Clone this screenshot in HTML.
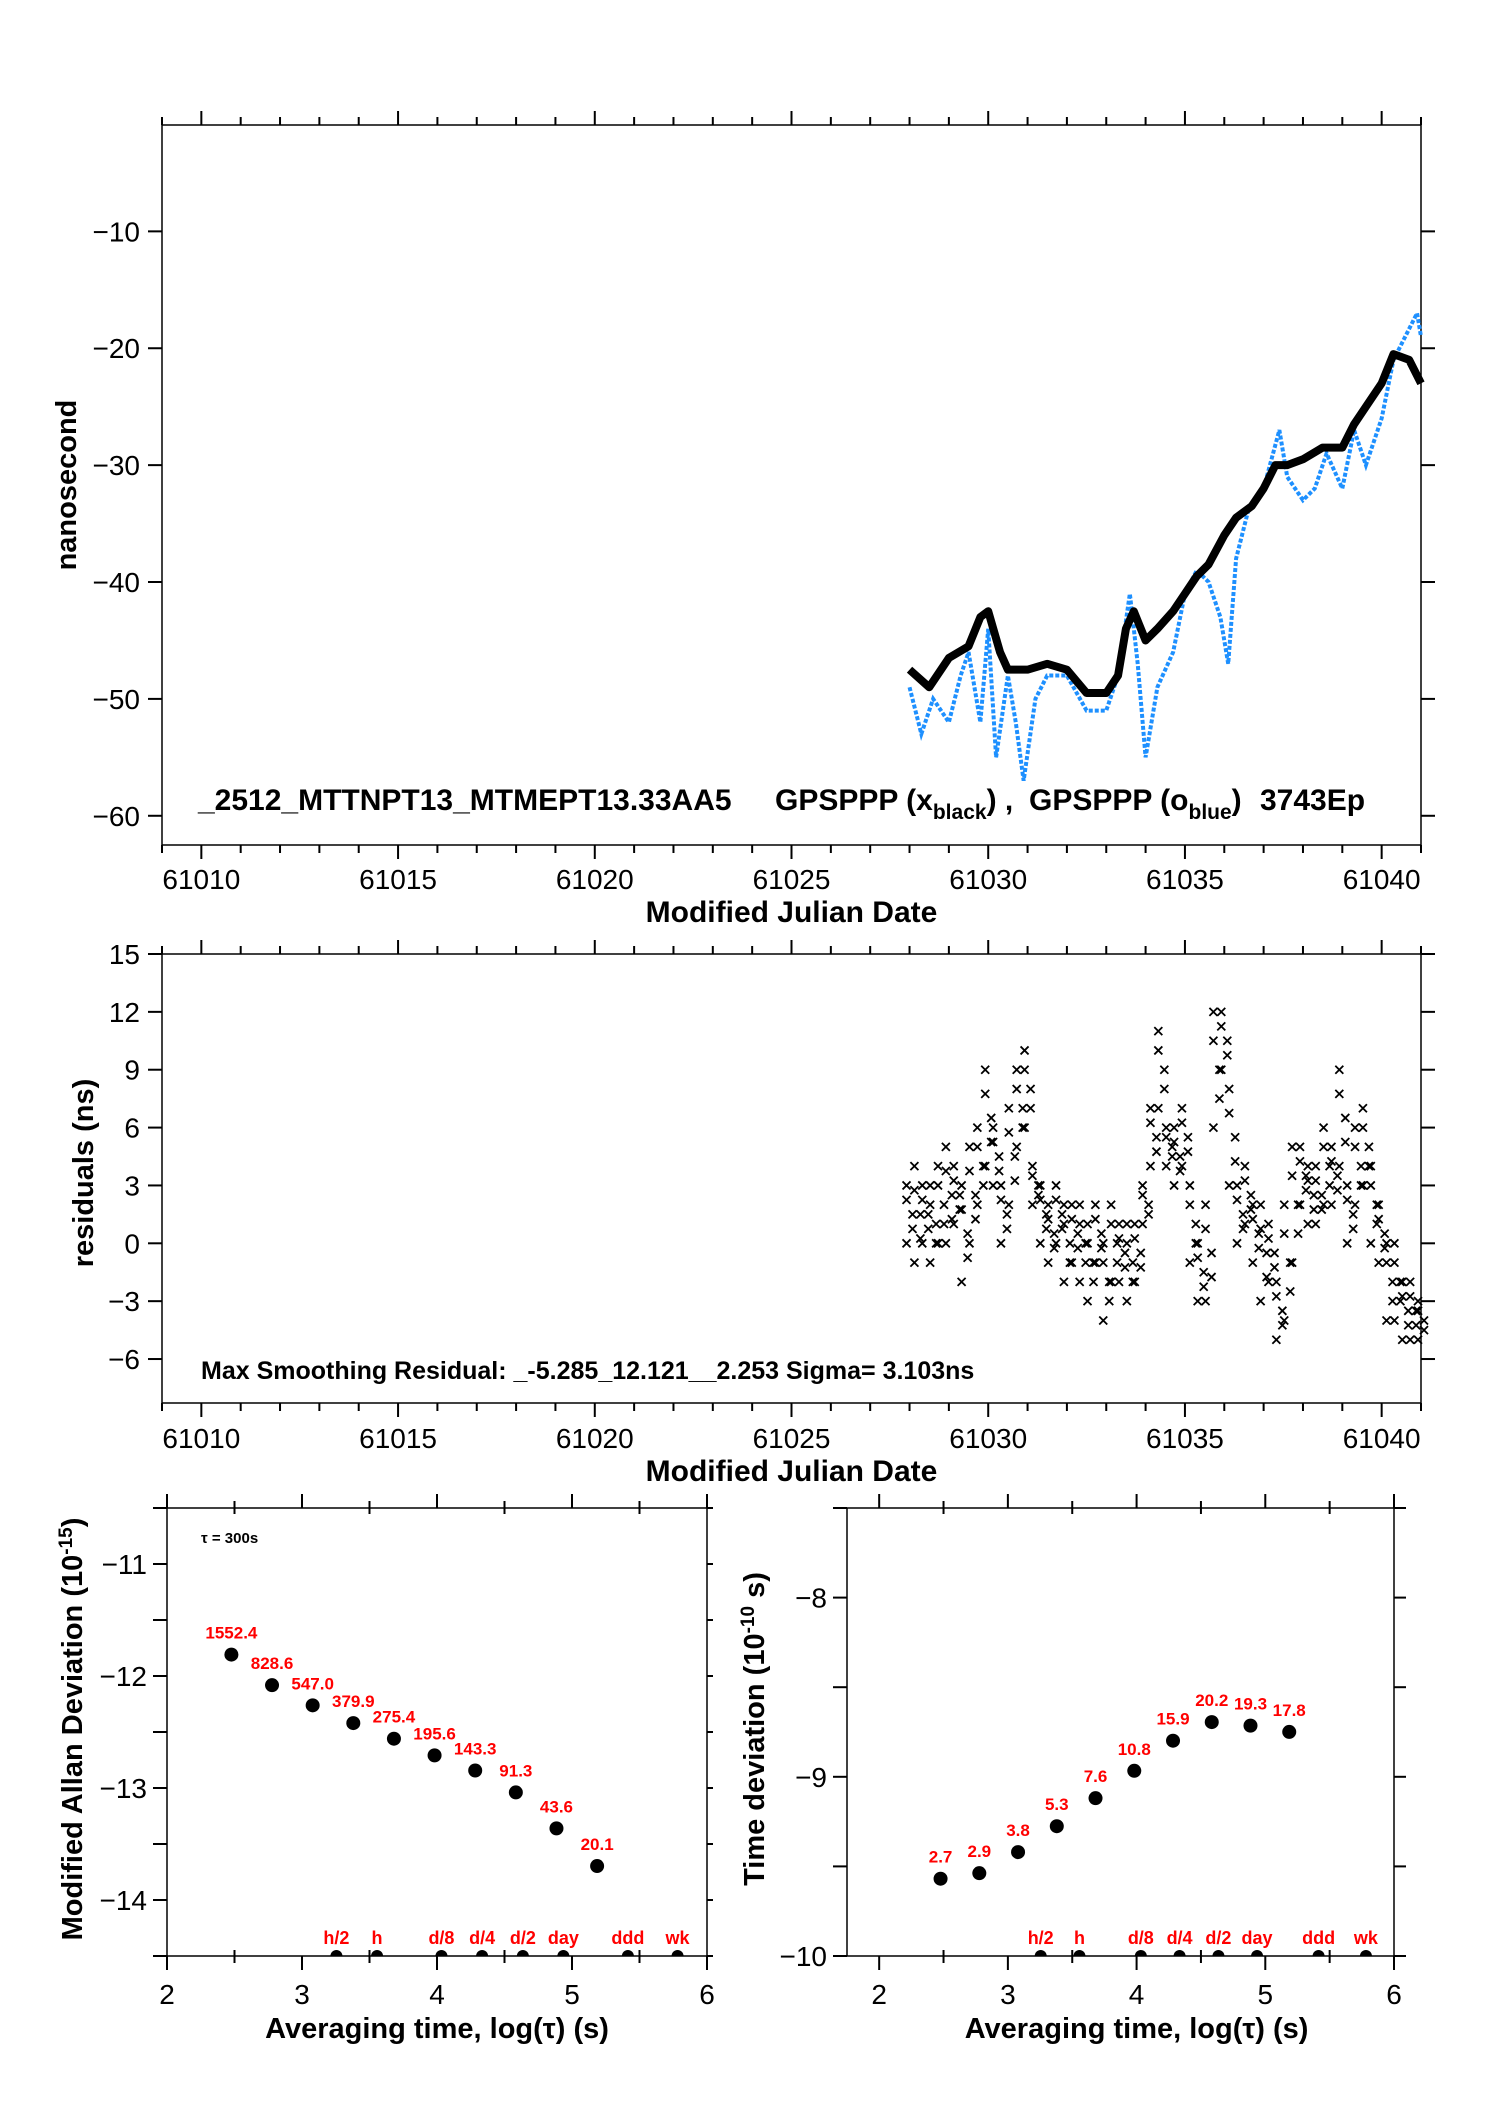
<!DOCTYPE html>
<html><head><meta charset="utf-8">
<style>
html,body{margin:0;padding:0;background:#fff;}
svg{display:block;font-family:"Liberation Sans",Arial,sans-serif;}
</style></head>
<body>
<svg id="fig" width="1488" height="2105" viewBox="0 0 1488 2105" xmlns="http://www.w3.org/2000/svg">
<rect x="0" y="0" width="1488" height="2105" fill="#fff"/>
<g id="top"></g>
<g id="res"></g>
<g id="adev"></g>
<g id="tdev"></g>
</svg>
<script>
// ---- data: top plot ----
const blackMjd = [61028.0,61028.5,61029.0,61029.5,61029.8,61030.0,61030.3,61030.5,61031.0,61031.5,61032.0,61032.5,61033.0,61033.3,61033.5,61033.7,61034.0,61034.3,61034.7,61035.0,61035.3,61035.6,61036.0,61036.3,61036.7,61037.0,61037.3,61037.6,61038.0,61038.5,61039.0,61039.3,61039.6,61040.0,61040.3,61040.7,61041.0];
const blackNs = [-47.5,-49,-46.5,-45.5,-43,-42.5,-46,-47.5,-47.5,-47,-47.5,-49.5,-49.5,-48,-44,-42.5,-45,-44,-42.5,-41,-39.5,-38.5,-36,-34.5,-33.5,-32,-30,-30,-29.5,-28.5,-28.5,-26.5,-25,-23,-20.5,-21,-23];
const blueMjd = [61028.0,61028.3,61028.6,61029.0,61029.3,61029.5,61029.8,61030.0,61030.2,61030.5,61030.7,61030.9,61031.2,61031.5,61032.0,61032.5,61033.0,61033.3,61033.6,61033.8,61034.0,61034.3,61034.7,61035.0,61035.3,61035.6,61035.9,61036.1,61036.3,61036.6,61037.0,61037.4,61037.6,61038.0,61038.3,61038.6,61039.0,61039.3,61039.6,61040.0,61040.3,61040.6,61040.9,61041.0];
const blueNs = [-49,-53,-50,-52,-48,-46,-52,-44,-55,-48,-52,-57,-50,-48,-48,-51,-51,-48,-41,-47,-55,-49,-46,-41,-39,-40,-43,-47,-38,-34,-32,-27,-31,-33,-32,-29,-32,-27,-30,-26,-21,-19,-17,-19];
const topXTicks = [61010,61015,61020,61025,61030,61035,61040];
const topYTicks = [-10,-20,-30,-40,-50,-60];
// ---- data: residuals ----
const residT = [61028.0,61028.2,61028.4,61028.6,61028.8,61029.0,61029.2,61029.4,61029.6,61029.8,61030.0,61030.2,61030.4,61030.6,61030.8,61031.0,61031.2,61031.4,61031.6,61031.8,61032.0,61032.2,61032.4,61032.6,61032.8,61033.0,61033.2,61033.4,61033.6,61033.8,61034.0,61034.2,61034.4,61034.6,61034.8,61035.0,61035.2,61035.4,61035.6,61035.8,61036.0,61036.2,61036.4,61036.6,61036.8,61037.0,61037.2,61037.4,61037.6,61037.8,61038.0,61038.2,61038.4,61038.6,61038.8,61039.0,61039.2,61039.4,61039.6,61039.8,61040.0,61040.2,61040.4,61040.6,61040.8,61041.0];
const residLow = [0,-1,0,-1,0,0,1,-2,0,2,4,3,0,2,5,6,2,0,-1,0,-2,-1,-2,-3,-1,-4,-2,-2,-3,-2,1,4,7,4,3,4,-1,-3,-3,6,9,3,0,1,-1,-3,-2,-5,-4,-1,2,1,1,2,2,4,0,2,3,0,-1,-4,-4,-5,-5,-5];
const residHigh = [3,4,3,3,4,5,4,3,5,6,9,6,3,7,9,10,4,3,2,3,2,2,2,1,2,0,2,1,1,1,3,7,11,6,6,7,3,0,2,12,12,8,3,4,2,2,1,-2,2,5,5,4,4,6,5,9,3,6,7,4,2,0,0,-2,-2,-3];
const resYTicks = [15,12,9,6,3,0,-3,-6];
// ---- data: stability ----
const logTau = [2.477,2.778,3.079,3.380,3.681,3.982,4.283,4.584,4.885,5.186];
const adevVals = [1552.4,828.6,547.0,379.9,275.4,195.6,143.3,91.3,43.6,20.1];
const adevLabels = ["1552.4","828.6","547.0","379.9","275.4","195.6","143.3","91.3","43.6","20.1"];
const tdevVals = [2.7,2.9,3.8,5.3,7.6,10.8,15.9,20.2,19.3,17.8];
const tdevLabels = ["2.7","2.9","3.8","5.3","7.6","10.8","15.9","20.2","19.3","17.8"];
const markNames = ["h/2","h","d/8","d/4","d/2","day","ddd","wk"];
const markLog = [3.255,3.556,4.033,4.334,4.636,4.936,5.414,5.782];
const adevYTicks = [-11,-12,-13,-14];
const tdevYTicks = [-8,-9,-10];
const logXTicks = [2,3,4,5,6];

const NS="http://www.w3.org/2000/svg";
function mk(parent,tag,attrs,text){const e=document.createElementNS(NS,tag);for(const k in attrs)e.setAttribute(k,attrs[k]);if(text!==undefined)e.textContent=text;parent.appendChild(e);return e;}
function lin(d0,d1,r0,r1){return v=>r0+(v-d0)/(d1-d0)*(r1-r0);}

// ===== top plot =====
(function(){
const g=document.getElementById('top');
const L=162,R=1421,T=125,B=845;
const x=lin(61009,61041,L,R), y=lin(-0.9,-62.5,T,B);
let f=mk(g,'rect',{x:L,y:T,width:R-L,height:B-T,fill:'none',stroke:'#000','stroke-width':1.5});

for(let d=61009;d<=61041;d++){const big=(d%5===0);const xx=x(d);
 mk(g,'line',{x1:xx,x2:xx,y1:T,y2:T-(big?14:8),stroke:'#000','stroke-width':2});
 mk(g,'line',{x1:xx,x2:xx,y1:B,y2:B+(big?14:8),stroke:'#000','stroke-width':2});}
topXTicks.forEach(v=>{const t=mk(g,'text',{x:x(v),y:B+44,'font-size':28,'text-anchor':'middle'},String(v));
 });
topYTicks.forEach(v=>{const yy=y(v);
 mk(g,'line',{x1:L-14,x2:L,y1:yy,y2:yy,stroke:'#000','stroke-width':2});
 mk(g,'line',{x1:R,x2:R+14,y1:yy,y2:yy,stroke:'#000','stroke-width':2});
 const t=mk(g,'text',{x:L-22,y:yy+10,'font-size':28,'text-anchor':'end'},'\u2212'+Math.abs(v));
 });
const bp=blueMjd.map((m,i)=>x(m)+','+y(blueNs[i])).join(' ');
const bl=mk(g,'polyline',{points:bp,fill:'none',stroke:'#1e90ff','stroke-width':4,'stroke-dasharray':'4 2'});

const kp=blackMjd.map((m,i)=>x(m)+','+y(blackNs[i])).join(' ');
const kl=mk(g,'polyline',{points:kp,fill:'none',stroke:'#000','stroke-width':8,'stroke-linejoin':'round'});

let t=mk(g,'text',{x:(L+R)/2,y:922,'font-size':30,'font-weight':'bold','text-anchor':'middle'},'Modified Julian Date');

t=mk(g,'text',{x:0,y:0,'font-size':29,'font-weight':'bold','text-anchor':'middle',transform:'translate(76,485) rotate(-90)'},'nanosecond');

t=mk(g,'text',{x:198,y:810,'font-size':30,'font-weight':'bold'},'_2512_MTTNPT13_MTMEPT13.33AA5');

t=mk(g,'text',{x:775,y:810,'font-size':30,'font-weight':'bold'});
t.innerHTML='GPSPPP (x<tspan dy="9" font-size="21">black</tspan><tspan dy="-9">) ,</tspan>';

t=mk(g,'text',{x:1029,y:810,'font-size':30,'font-weight':'bold'});
t.innerHTML='GPSPPP (o<tspan dy="9" font-size="21">blue</tspan><tspan dy="-9">)</tspan>';

t=mk(g,'text',{x:1260,y:810,'font-size':30,'font-weight':'bold'},'3743Ep');

})();

// ===== residuals =====
(function(){
const g=document.getElementById('res');
const L=162,R=1421,T=954,B=1403;
const x=lin(61009,61041,L,R), y=lin(15,-8.28,T,B);
let f=mk(g,'rect',{x:L,y:T,width:R-L,height:B-T,fill:'none',stroke:'#000','stroke-width':1.5});

for(let d=61009;d<=61041;d++){const big=(d%5===0);const xx=x(d);
 mk(g,'line',{x1:xx,x2:xx,y1:T,y2:T-(big?14:8),stroke:'#000','stroke-width':2});
 mk(g,'line',{x1:xx,x2:xx,y1:B,y2:B+(big?14:8),stroke:'#000','stroke-width':2});}
topXTicks.forEach(v=>{const t=mk(g,'text',{x:x(v),y:B+45,'font-size':28,'text-anchor':'middle'},String(v));
 });
resYTicks.forEach(v=>{const yy=y(v);
 mk(g,'line',{x1:L-14,x2:L,y1:yy,y2:yy,stroke:'#000','stroke-width':2});
 mk(g,'line',{x1:R,x2:R+14,y1:yy,y2:yy,stroke:'#000','stroke-width':2});
 const t=mk(g,'text',{x:L-22,y:yy+10,'font-size':28,'text-anchor':'end'},(v<0?'\u2212':'')+Math.abs(v));
 });
residT.forEach((m,i)=>{const xx=x(m);const lo=residLow[i],hi=residHigh[i];
 [lo,(lo+hi)/2,hi,(lo*3+hi)/4,(lo+hi*3)/4].forEach((v,j)=>{const yy=y(v);const dx=(j%2?3:-3);
  const p=mk(g,'path',{d:`M${xx+dx-4} ${yy-4}L${xx+dx+4} ${yy+4}M${xx+dx+4} ${yy-4}L${xx+dx-4} ${yy+4}`,stroke:'#000','stroke-width':1.8,fill:'none'});
  });});
let t=mk(g,'text',{x:(L+R)/2,y:1481,'font-size':30,'font-weight':'bold','text-anchor':'middle'},'Modified Julian Date');

t=mk(g,'text',{x:0,y:0,'font-size':29,'font-weight':'bold','text-anchor':'middle',transform:'translate(93,1173) rotate(-90)'},'residuals (ns)');

t=mk(g,'text',{x:201,y:1379,'font-size':25,'font-weight':'bold'},'Max Smoothing Residual: _-5.285_12.121__2.253  Sigma= 3.103ns');

})();

// ===== stability plots =====
function stab(id,L,R,x0,x1,y0,y1,yTicks,minorStep,vals,labels,exp,ytitle,ytx,rightCross){
const g=document.getElementById(id);
const T=1508,B=1956;
const x=lin(x0,x1,L,R), y=lin(y1,y0,T,B);
let f=mk(g,'rect',{x:L,y:T,width:R-L,height:B-T,fill:'none',stroke:'#000','stroke-width':1.5});

for(let v=2;v<=6.001;v+=0.5){const xx=x(v);const big=Math.abs(v-Math.round(v))<0.01;
 mk(g,'line',{x1:xx,x2:xx,y1:B-(big?0:6),y2:B+(big?14:7),stroke:'#000','stroke-width':2});
 mk(g,'line',{x1:xx,x2:xx,y1:T+(big?0:6),y2:T-(big?14:7),stroke:'#000','stroke-width':2});}
logXTicks.forEach(v=>{const t=mk(g,'text',{x:x(v),y:B+48,'font-size':28,'text-anchor':'middle'},String(v));
 });
for(let v=y0;v<=y1+0.001;v+=minorStep){const yy=y(v);
 mk(g,'line',{x1:L-14,x2:L,y1:yy,y2:yy,stroke:'#000','stroke-width':2});
 mk(g,'line',{x1:R,x2:R+(rightCross?12:6),y1:yy,y2:yy,stroke:'#000','stroke-width':2});}
yTicks.forEach(v=>{const yy=y(v);
 const t=mk(g,'text',{x:L-20,y:yy+10,'font-size':28,'text-anchor':'end'},'\u2212'+Math.abs(v));
 });
logTau.forEach((lt,i)=>{const xx=x(lt),yy=y(Math.log10(vals[i])+exp);
 const c=mk(g,'circle',{cx:xx,cy:yy,r:7,fill:'#000'});
 
 const t=mk(g,'text',{x:xx,y:yy-16,'font-size':17,'font-weight':'bold',fill:'#ff0000','text-anchor':'middle'},labels[i]);
 });
markLog.forEach((lt,i)=>{const xx=x(lt);
 const c=mk(g,'path',{d:`M${xx-6} ${B}A6 6 0 0 1 ${xx+6} ${B}Z`,fill:'#000'});
 
 const t=mk(g,'text',{x:xx,y:B-12,'font-size':18,'font-weight':'bold',fill:'#ff0000','text-anchor':'middle'},markNames[i]);
 });
let t=mk(g,'text',{x:(x(2)+x(6))/2,y:2038,'font-size':29,'font-weight':'bold','text-anchor':'middle'},'Averaging time, log(\u03c4) (s)');

t=mk(g,'text',{x:0,y:0,'font-size':29,'font-weight':'bold','text-anchor':'middle',transform:`translate(${ytx},1729) rotate(-90)`});
t.innerHTML=ytitle;

return {g,x,y};
}
const a=stab('adev',167,707,2,6,-14.5,-10.5,adevYTicks,0.5,adevVals,adevLabels,-15,'Modified Allan Deviation (10<tspan dy="-10" font-size="19">-15</tspan><tspan dy="10">)</tspan>',82,false);
let tt=mk(a.g,'text',{x:201,y:1543,'font-size':15,'font-weight':'bold'},'\u03c4 = 300s');

stab('tdev',847,1394,1.75,6,-10,-7.5,tdevYTicks,0.5,tdevVals,tdevLabels,-10,'Time deviation (10<tspan dy="-10" font-size="19">-10</tspan><tspan dy="10"> s)</tspan>',764,true);
</script>
</body></html>
